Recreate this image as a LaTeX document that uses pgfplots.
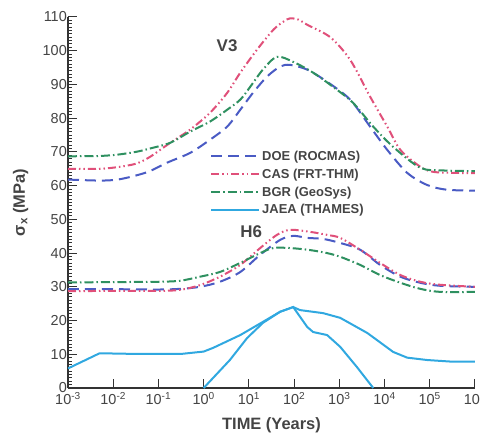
\documentclass[border=0pt]{standalone}
\usepackage{fontspec}
\setmainfont{Liberation Sans}
\usepackage{pgfplots}
\pgfplotsset{compat=1.18}
\definecolor{doeblue}{HTML}{4A5BC4}
\definecolor{casred}{HTML}{E0507A}
\definecolor{bgrgreen}{HTML}{2E9060}
\definecolor{jaeablue}{HTML}{30A8E0}
\definecolor{axisgray}{HTML}{333333}
\definecolor{labelgray}{HTML}{444444}

\begin{document}
\begin{tikzpicture}
\begin{axis}[
  scale only axis, width=407bp, height=371bp,
  xmode=log, log basis x=10,
  xmin=1e-3, xmax=1e6, ymin=0, ymax=110,
  axis lines=left, axis line style={axisgray, line width=1.3bp, -},
  xtick={1e-3,1e-2,1e-1,1,10,100,1e3,1e4,1e5,1e6},
  xticklabels={10\textsuperscript{-3},10\textsuperscript{-2},10\textsuperscript{-1},
    10\textsuperscript{0},10\textsuperscript{1},10\textsuperscript{2},10\textsuperscript{3},
    10\textsuperscript{4},10\textsuperscript{5},10\textsuperscript{6}},
  ytick={0,10,...,110}, minor y tick num=9,
  tick align=inside, major tick length=9bp, minor tick length=4bp,
  tick style={axisgray, line width=1bp},
  /pgf/number format/assume math mode=true,
  tick label style={font=\fontsize{14.5}{16}\selectfont, text=labelgray},
  yticklabel style={inner sep=1bp},
  xticklabel style={inner sep=1bp, yshift=-3bp},
  xlabel={\textbf{TIME (Years)}}, xlabel shift=8bp,
  ylabel={\textbf{σ\textsubscript{x} (MPa)}}, ylabel shift=10bp,
  label style={font=\fontsize{16.5}{18}\selectfont, text=labelgray},
  legend style={draw=none, fill=none, at={(rel axis cs:0.349,0.645)}, anchor=north west,
    font=\fontsize{13}{15}\selectfont\bfseries, text=labelgray,
    row sep=3bp, inner sep=0pt},
  legend cell align=left,
  legend image code/.code={\draw[#1] (0bp,0bp) -- (48bp,0bp);},
  every axis plot/.append style={line width=2bp},
]
% V3
\addplot[doeblue, dash pattern=on 11bp off 6bp, smooth] coordinates {
 (1e-3,61.8)(5.0e-3,61.5)(1.26e-2,61.8)(0.0316,63)(0.0646,64.3)(0.155,66.8)(0.501,69.7)
 (1.38,73.6)(3.31,77.5)(6.46,82.5)(12.3,87.5)(25.1,92.3)(49.0,95.3)(81.3,95.8)(195,94.4)
 (537,90.8)(1738,85.5)(4786,77.5)(11482,70.6)(31623,63.8)(87096,60.2)(234423,58.8)(1e6,58.5)};
\addlegendentry{DOE (ROCMAS)}
\addplot[casred, dash pattern=on 8bp off 3bp on 1.5bp off 3bp on 1.5bp off 3bp, smooth] coordinates {
 (1e-3,65)(5.0e-3,65)(1.26e-2,65.5)(0.0316,66.5)(0.0646,68.5)(0.182,72.7)(0.501,76.6)
 (1.38,81.6)(3.31,87.5)(6.46,93.5)(15.1,100.3)(34.7,106.2)(57.5,108.6)(81.3,109.6)(126,109.2)
 (195,107.7)(631,104)(1738,97.3)(4786,86.4)(11482,77.5)(22387,70.6)(61660,65.6)(117490,64.1)
 (316228,63.8)(1e6,63.7)};
\addlegendentry{CAS (FRT-THM)}
\addplot[bgrgreen, dash pattern=on 9bp off 3bp on 1.5bp off 3bp, smooth] coordinates {
 (1e-3,68.7)(5.0e-3,68.8)(1.26e-2,69.2)(0.0316,70)(0.0646,71)(0.182,72.7)(0.501,76)
 (1.38,79)(3.31,82.5)(6.46,85.5)(10.7,89.3)(20.4,94.4)(41.7,98.2)(95.5,96.7)(263,93.5)
 (724,89.3)(1995,84.6)(5623,77.5)(15488,71.5)(61660,65.3)(199526,64.5)(1e6,64.3)};
\addlegendentry{BGR (GeoSys)}
% JAEA
\addplot[jaeablue] coordinates {
 (1e-3,5.8)(5.0e-3,10.3)(0.0316,10.1)(0.316,10.1)(1,10.8)(1.62,11.9)(6.46,15.7)(20.4,19.6)
 (49.0,22.6)(95.5,24)(135,23.1)(437,22.2)(1047,20.8)(4169,16.3)(15488,10.7)(31623,9)
 (87096,8.3)(316228,7.8)(1e6,7.8)};
\addlegendentry{JAEA (THAMES)}
\addplot[jaeablue, forget plot] coordinates {
 (1,0)(3.80,8.3)(9.12,14.8)(20.4,19.3)(49.0,22.6)(95.5,24)(195,18.1)(263,16.6)(537,15.7)
 (1047,12.2)(2455,6.2)(5623,0)};
% H6
\addplot[doeblue, dash pattern=on 11bp off 6bp, smooth, forget plot] coordinates {
 (1e-3,29.3)(1e-2,29.3)(0.1,29.2)(0.302,29.4)(0.832,30)(2.29,31.5)(6.46,34.4)(17.8,39.5)
 (49.0,43.9)(95.5,45.1)(195,44.5)(437,44.2)(1047,43)(2884,41)(7943,36.5)(22387,33)
 (61660,31.2)(169824,30.3)(1e6,30)};
\addplot[casred, dash pattern=on 8bp off 3bp on 1.5bp off 3bp on 1.5bp off 3bp, smooth, forget plot] coordinates {
 (1e-3,28.7)(1e-2,28.8)(0.1,28.8)(0.302,29.1)(0.832,30.5)(2.29,33)(6.46,36.5)(17.8,41.5)
 (41.7,45.4)(81.3,46.9)(224,46.3)(537,45.4)(1047,44.5)(2884,41)(7943,37.1)(22387,33.5)
 (61660,31.5)(169824,30.6)(1e6,30)};
\addplot[bgrgreen, dash pattern=on 9bp off 3bp on 1.5bp off 3bp, smooth, forget plot] coordinates {
 (1e-3,31.3)(1e-2,31.4)(0.1,31.5)(0.302,31.8)(0.832,33)(2.29,34.4)(6.46,37.1)(17.8,40)
 (34.7,41.5)(81.3,41.5)(224,40.9)(537,40)(1047,38.9)(2884,36.5)(7943,33.5)(22387,31.2)
 (61660,29.4)(169824,28.5)(1e6,28.5)};
\node[font=\fontsize{17}{19}\selectfont\bfseries, text=labelgray] at (axis cs:3.3,101.5) {V3};
\node[font=\fontsize{17}{19}\selectfont\bfseries, text=labelgray] at (axis cs:11.2,46.3) {H6};
\end{axis}
\pgfresetboundingbox
\path[use as bounding box] (-68bp,-51bp) rectangle (412bp,388bp);
\end{tikzpicture}
\end{document}
